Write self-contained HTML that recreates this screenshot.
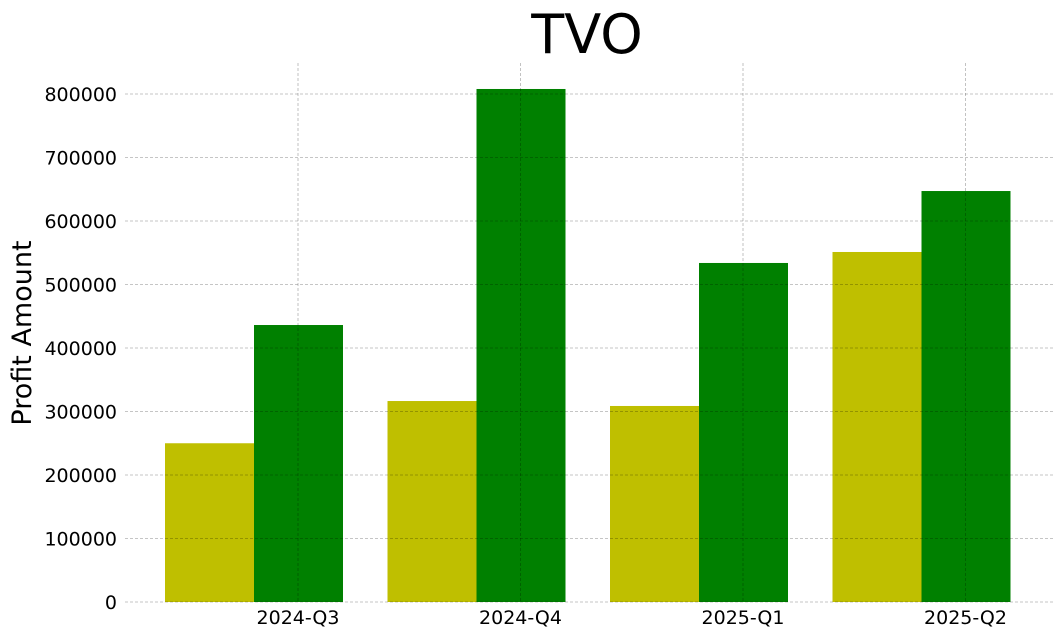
<!DOCTYPE html>
<html><head><meta charset="utf-8"><style>
body{margin:0;background:#fff;}
svg{display:block;font-family:"DejaVu Sans","Liberation Sans",sans-serif;}
</style></head><body>
<svg id="chart" width="1062" height="636">
<text x="587" y="53" font-size="54" text-anchor="middle">TVO</text>
<text transform="translate(31,333) rotate(-90)" font-size="27" text-anchor="middle">Profit Amount</text>
<g id="bars"></g><g id="grid"></g><g id="ticks"></g>
</svg>
<script>
const categories=["2024-Q3","2024-Q4","2025-Q1","2025-Q2"];
const seriesA=[250000,316500,308700,551200];
const seriesB=[436200,807900,533900,647200];
const yTicks=[0,100000,200000,300000,400000,500000,600000,700000,800000];
const NS="http://www.w3.org/2000/svg";
const y=v=>602-v*0.000635;
const x=i=>298+i*222.5;
function mk(t,a,p){const e=document.createElementNS(NS,t);for(const k in a)e.setAttribute(k,a[k]);document.getElementById(p).appendChild(e);return e;}
categories.forEach((c,i)=>{
 const a=mk('rect',{x:x(i)-133,y:y(seriesA[i]),width:89,height:602-y(seriesA[i]),fill:'#bfbf00'},'bars');
 
 
 const b=mk('rect',{x:x(i)-44,y:y(seriesB[i]),width:89,height:602-y(seriesB[i]),fill:'#008000'},'bars');
 
 
 const g=mk('line',{x1:x(i),x2:x(i),y1:63,y2:602,stroke:'#000','stroke-opacity':0.3,'stroke-width':0.8,'stroke-dasharray':'3,2'},'grid');
 
 
 const t=mk('text',{x:x(i),y:624,'font-size':19,'text-anchor':'middle'},'ticks');
 t.textContent=c;
 
 
});
yTicks.forEach(v=>{
 const g=mk('line',{x1:125,x2:1053,y1:y(v),y2:y(v),stroke:'#000','stroke-opacity':0.3,'stroke-width':0.8,'stroke-dasharray':'3,2'},'grid');
 
 
 const t=mk('text',{x:117,y:y(v)+7,'font-size':19,'text-anchor':'end'},'ticks');
 t.textContent=v;
 
 
});
</script>
</body></html>
